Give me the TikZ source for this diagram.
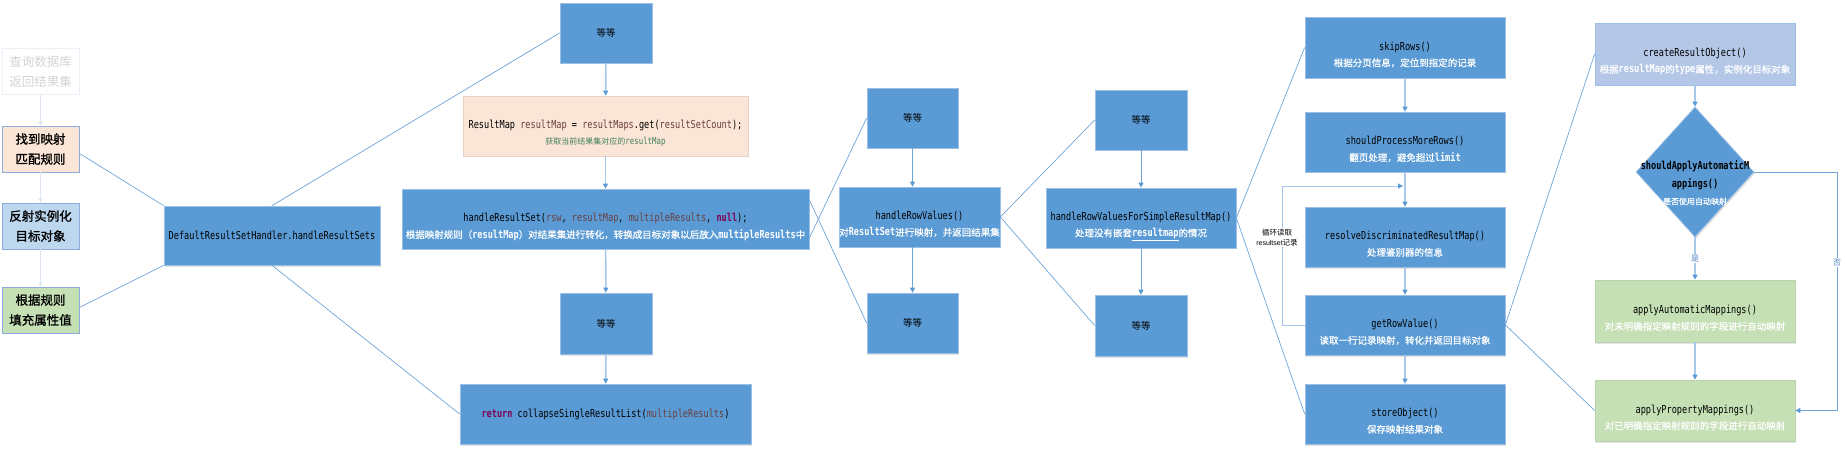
\documentclass[tikz,border=0pt]{standalone}
\usepackage{fontspec}
\newfontfamily\cn{Noto Sans CJK SC}
\newfontfamily\cnb[FakeBold=1.2]{Noto Sans CJK SC}
\newfontfamily\cnw[FakeBold=0.6]{Noto Sans CJK SC}
\newfontfamily\code[FakeStretch=0.78]{DejaVu Sans Mono}
\newfontfamily\lsans{Liberation Sans}
\usetikzlibrary{arrows.meta,shapes.geometric,shadows,calc}
\definecolor{boxblue}{HTML}{5B9BD5}
\definecolor{bordblue}{HTML}{9DBFE6}
\definecolor{peach}{HTML}{FBE5D6}
\definecolor{peachb}{HTML}{E6D2C6}
\definecolor{lblue}{HTML}{BDD7EE}
\definecolor{lgreen}{HTML}{C5E0B4}
\definecolor{greenb}{HTML}{BBD3AD}
\definecolor{crblue}{HTML}{B4C7E7}
\definecolor{leftb}{HTML}{8FAADC}
\definecolor{linec}{HTML}{6FA6DA}
\definecolor{arrc}{HTML}{A7C8EA}
\definecolor{tipc}{HTML}{5B9BD5}
\definecolor{fade}{HTML}{D4D4D4}
\definecolor{fadeb}{HTML}{EAF0F8}
\definecolor{fadea}{HTML}{DCE6F2}
\definecolor{cvar}{HTML}{6A3E3E}
\definecolor{ckw}{HTML}{7F0055}
\definecolor{ccom}{HTML}{3F7F5F}
\definecolor{lblc}{HTML}{4F81BD}
\newcommand\cd[1]{{\code\fontsize{11}{13}\selectfont #1}}
\newcommand\zc[1]{{\code\bfseries\fontsize{11}{13}\selectfont #1}}
\newcommand\zh[1]{{\cnw\fontsize{9.5}{12}\selectfont\color{white}#1}}
\newcommand\twol[2]{\raisebox{-11pt}[0pt][0pt]{\makebox[0pt]{\begin{tabular}{@{}c@{}}#1\\[4pt]#2\end{tabular}}}}
\newcommand\threel[3]{\raisebox{-15pt}[0pt][0pt]{\makebox[0pt]{\begin{tabular}{@{}c@{}}#1\\[5pt]#2\\[5pt]#3\end{tabular}}}}
\tikzset{
  shd/.style={drop shadow={opacity=0.22,shadow xshift=1.3pt,shadow yshift=-1.5pt}},
  bb/.style={rectangle,inner sep=0pt,fill=boxblue,draw=bordblue,line width=0.7pt,shd},
  pch/.style={bb,fill=peach,draw=peachb},
  grn/.style={bb,fill=lgreen,draw=greenb},
  crb/.style={bb,fill=crblue,draw=bordblue},
  lbox/.style={rectangle,inner sep=0pt,minimum width=77,minimum height=46,draw=leftb,line width=0.8pt,align=center,font=\cnb\fontsize{12.5}{20}\selectfont},
  conn/.style={draw=linec,line width=0.7pt},
  arr/.style={draw=arrc,line width=1.6pt,-{Triangle[length=5pt,width=5pt,color=tipc]}},
  arrt/.style={draw=linec,line width=0.9pt,-{Triangle[length=5pt,width=5pt,color=tipc]}},
  fadearr/.style={draw=fadea,line width=1.3pt,-{Triangle[length=4pt,width=4pt,color=fadea]}},
  lbl/.style={fill=white,inner sep=1pt,text=lblc,font=\cn\fontsize{8}{9}\selectfont},
}
\begin{document}
\begin{tikzpicture}[x=1pt,y=-1pt]
\fill[white] (0,0) rectangle (1845,449);
\useasboundingbox (0,0) rectangle (1845,449);

% left legend boxes
\node[lbox,draw=fadeb,fill=white,text=fade,font=\cn\fontsize{12.5}{20}\selectfont] (q) at (40.5,71.5) {查询数据库\\返回结果集};
\node[lbox,fill=peach] (f1) at (40.5,149) {找到映射\\匹配规则};
\node[lbox,fill=lblue] (f2) at (40.5,226) {反射实例化\\目标对象};
\node[lbox,fill=lgreen] (f3) at (40.5,310) {根据规则\\填充属性值};
\draw[fadearr] (q) -- (f1);
\draw[fadearr] (f1) -- (f2);
\draw[fadearr] (f2) -- (f3);

% column 1
\node[bb,minimum width=216,minimum height=59] (D) at (272,235.5) {\cd{DefaultResultSetHandler.handleResultSets}};

% column 2
\node[bb,minimum width=92,minimum height=60] (e1) at (606,33) {\cn\fontsize{9.5}{11}\selectfont 等等};
\node[pch,minimum width=285,minimum height=60] (rm) at (605.5,126) {\twol{\cd{ResultMap {\color{cvar}resultMap} = {\color{cvar}resultMaps}.get({\color{cvar}resultSetCount});}}{{\cn\fontsize{8}{10}\selectfont\color{ccom}获取当前结果集对应的}{\code\fontsize{9.5}{10}\selectfont\color{ccom}resultMap}}};
\node[bb,minimum width=407,minimum height=60] (hrs) at (605.5,219) {\twol{\cd{handleResultSet({\color{cvar}rsw}, {\color{cvar}resultMap}, {\color{cvar}multipleResults}, {\bfseries\color{ckw}null});}}{\zh{根据映射规则（\zc{resultMap}）对结果集进行转化，转换成目标对象以后放入\zc{multipleResults}中}}};
\node[bb,minimum width=92,minimum height=61] (e2) at (606,323.5) {\cn\fontsize{9.5}{11}\selectfont 等等};
\node[bb,minimum width=291,minimum height=60] (ret) at (605.5,414) {\cd{{\bfseries\color{ckw}return} collapseSingleResultList({\color{cvar}multipleResults})}};

% column 3
\node[bb,minimum width=91,minimum height=60] (e3) at (912.5,118) {\cn\fontsize{9.5}{11}\selectfont 等等};
\node[bb,minimum width=161,minimum height=60] (hrv) at (919.5,217) {\twol{\cd{handleRowValues()}}{\zh{对\zc{ResultSet}进行映射，并返回结果集}}};
\node[bb,minimum width=91,minimum height=60] (e4) at (912.5,323) {\cn\fontsize{9.5}{11}\selectfont 等等};

% column 4
\node[bb,minimum width=92,minimum height=60] (e5) at (1141,120) {\cn\fontsize{9.5}{11}\selectfont 等等};
\node[bb,minimum width=190,minimum height=60] (hs) at (1141,218) {\twol{\cd{handleRowValuesForSimpleResultMap()}}{\zh{处理没有嵌套\underline{\zc{resultmap}}的情况}}};
\node[bb,minimum width=92,minimum height=61] (e6) at (1141,325.5) {\cn\fontsize{9.5}{11}\selectfont 等等};

% column 5
\node[bb,minimum width=200,minimum height=61] (sk) at (1405,47.5) {\twol{\cd{skipRows()}}{\zh{根据分页信息，定位到指定的记录}}};
\node[bb,minimum width=200,minimum height=60] (sp) at (1405,142) {\twol{\cd{shouldProcessMoreRows()}}{\zh{翻页处理，避免超过\zc{limit}}}};
\node[bb,minimum width=200,minimum height=60] (rd) at (1405,237) {\twol{\cd{resolveDiscriminatedResultMap()}}{\zh{处理鉴别器的信息}}};
\node[bb,minimum width=200,minimum height=60] (gv) at (1405,325) {\twol{\cd{getRowValue()}}{\zh{读取一行记录映射，转化并返回目标对象}}};
\node[bb,minimum width=200,minimum height=60] (so) at (1405,414) {\twol{\cd{storeObject()}}{\zh{保存映射结果对象}}};

% column 6
\node[crb,minimum width=200,minimum height=62] (cr) at (1695,54) {\twol{\cd{createResultObject()}}{\zh{根据\zc{resultMap}的\zc{type}属性，实例化目标对象}}};
\node[diamond,inner sep=0pt,minimum width=118,minimum height=130,fill=boxblue,draw=bordblue,line width=0.7pt,shd] (dm) at (1695,172) {\threel{\cd{\bfseries shouldApplyAutomaticM}}{\cd{\bfseries appings()}}{{\cnw\fontsize{8}{10}\selectfont\color{white}是否使用自动映射}}};
\node[grn,minimum width=200,minimum height=62] (aa) at (1695,311) {\twol{\cd{applyAutomaticMappings()}}{\zh{对未明确指定映射规则的字段进行自动映射}}};
\node[grn,minimum width=200,minimum height=61] (ap) at (1695,410.5) {\twol{\cd{applyPropertyMappings()}}{\zh{对已明确指定映射规则的字段进行自动映射}}};

% fan-out connectors
\draw[conn] ($(f1.east)+(1,5)$) -- (D.north west);
\draw[conn] ($(f3.east)+(1,-3)$) -- (D.south west);
\draw[conn] (D.north) -- (e1.west);
\draw[conn] (D.south) -- (ret.west);
\draw[conn] ($(hrs.east)+(0,19)$) -- (e3.west);
\draw[conn] ($(hrs.east)+(0,-19)$) -- (e4.west);
\draw[conn] (hrv.east) -- (e5.west);
\draw[conn] (hrv.east) -- (e6.west);
\draw[conn] (hs.east) -- (sk.west);
\draw[conn] (hs.east) -- (so.west);
\draw[conn] (gv.east) -- (cr.west);
\draw[conn] (gv.east) -- (ap.west);

% vertical flow arrows
\draw[arr] (e1) -- (rm);
\draw[arr] (rm) -- (hrs);
\draw[arr] (hrs) -- (e2);
\draw[arr] (e2) -- (ret);
\draw[arrt] (e3.south) -- (e3.south |- hrv.north);
\draw[arrt] (e3.south |- hrv.south) -- (e4.north);
\draw[arrt] (e5) -- (hs);
\draw[arrt] (hs) -- (e6);
\draw[arr] (sk) -- (sp);
\draw[arr] (sp) -- (rd);
\draw[arr] (rd) -- (gv);
\draw[arr] (gv) -- (so);
\draw[arr] (cr) -- (dm);
\draw[arr] (dm) -- node[lbl] {是} (aa);
\draw[arr] (aa) -- (ap);

% "no" branch
\coordinate (nr1) at (1837,172);
\coordinate (nr2) at (1837,410.5);
\draw[arrt] (dm.east) -- (nr1) -- node[lbl,pos=0.38] {否} (nr2) -- (ap.east);

% loop back
\coordinate (lp1) at (1282,325);
\coordinate (lp2) at (1282,186);
\coordinate (lp3) at (1403,186);
\draw[arrt,draw=arrc] (gv.west) -- (lp1) -- node[pos=0.63,xshift=-5pt,fill=white,inner sep=0.5pt,align=center,font=\cn\fontsize{7.5}{10}\selectfont] {循环读取\\{\lsans\fontsize{7}{10}\selectfont resultset}记录} (lp2) -- (lp3);
\end{tikzpicture}
\end{document}
